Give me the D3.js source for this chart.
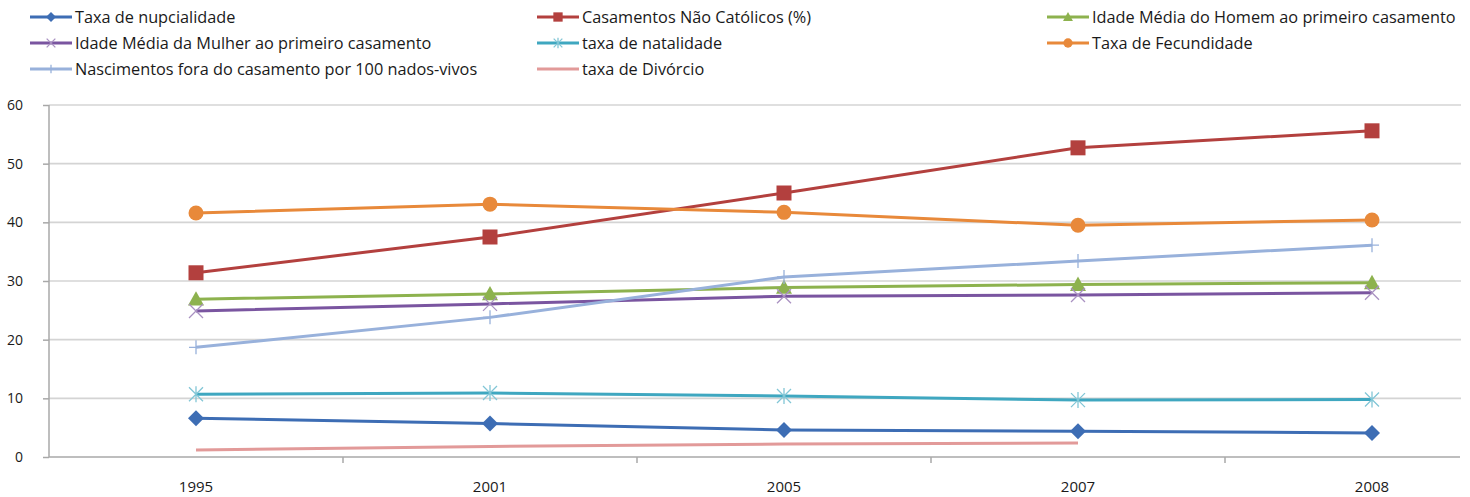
<!DOCTYPE html>
<html><head><meta charset="utf-8">
<script src="https://cdn.jsdelivr.net/npm/d3@7"></script>
<style>
html,body{margin:0;padding:0;background:#fff;overflow:hidden}
text{font-family:"Open Sans",sans-serif;fill:#1a1a1a}
</style></head><body>
<svg id="c" width="1470" height="497"></svg>
<script>
const categories = ["1995","2001","2005","2007","2008"];
const yTicks = [0,10,20,30,40,50,60];

const seriesNames = [
  "Taxa de nupcialidade",
  "Casamentos Não Católicos (%)",
  "Idade Média do Homem ao primeiro casamento",
  "Idade Média da Mulher ao primeiro casamento",
  "taxa de natalidade",
  "Taxa de Fecundidade",
  "Nascimentos fora do casamento por 100 nados-vivos",
  "taxa de Divórcio"
];
const nupcialidade   = [6.6, 5.7, 4.6, 4.4, 4.1];
const naoCatolicos   = [31.4, 37.5, 45.0, 52.7, 55.6];
const idadeHomem     = [26.9, 27.8, 28.9, 29.4, 29.7];
const idadeMulher    = [24.9, 26.1, 27.4, 27.6, 28.0];
const natalidade     = [10.7, 10.9, 10.4, 9.7, 9.8];
const fecundidade    = [41.6, 43.1, 41.7, 39.5, 40.4];
const foraCasamento  = [18.7, 23.8, 30.7, 33.4, 36.1];
const divorcio       = [1.2, 1.8, 2.2, 2.4, null];

const seriesValues = [nupcialidade, naoCatolicos, idadeHomem, idadeMulher, natalidade, fecundidade, foraCasamento, divorcio];
const colors  = ["#3d6db4","#b3403e","#8db24e","#7a55a0","#3fa7c0","#e8893a","#98b1db","#e29a99"];
const markers = ["diamond","square","triangle","x","star","circle","plus","none"];

const svg = d3.select("#c");
const mLeft = 49, mTop = 105, mBottom = 457, band = 294;
const x = d3.scaleBand().domain(categories).range([mLeft, mLeft + band*categories.length]).padding(0);
const y = d3.scaleLinear().domain([0,60]).range([mBottom, mTop]);
const rightEdge = 1461;

// gridlines
svg.append("g").selectAll("line").data(yTicks.filter(d=>d>0)).join("line")
  .attr("x1", mLeft).attr("x2", rightEdge).attr("y1", d=>y(d)).attr("y2", d=>y(d))
  .attr("stroke", "#d4d4d4").attr("stroke-width", 1.6);

// y axis
const ya = svg.append("g").attr("transform", `translate(${mLeft},0)`)
  .call(d3.axisLeft(y).tickValues(yTicks).tickSize(6).tickPadding(20));
ya.select(".domain").attr("stroke", "#a8a8a8").attr("stroke-width",1.5).attr("d", `M-0,${mTop}V${mBottom}`);
ya.selectAll(".tick line").attr("stroke", "#a8a8a8").attr("stroke-width",1.5);
ya.selectAll(".tick text").attr("font-size", 14).attr("fill", "#1a1a1a").style("font-family","'Open Sans',sans-serif");

// x axis
svg.append("line").attr("x1", mLeft).attr("x2", 1460).attr("y1", mBottom).attr("y2", mBottom)
  .attr("stroke", "#a8a8a8").attr("stroke-width", 1.5);
svg.append("g").selectAll("line").data(categories.slice(1)).join("line")
  .attr("x1", d=>x(d)).attr("x2", d=>x(d)).attr("y1", mBottom).attr("y2", mBottom+6)
  .attr("stroke", "#a8a8a8").attr("stroke-width", 1.5);
svg.append("g").selectAll("text").data(categories).join("text")
  .attr("x", d=>x(d)+band/2).attr("y", 492).attr("text-anchor","middle")
  .attr("font-size", 15).text(d=>d);

const cx = c => x(c) + band/2;

function drawMarker(g, type, px, py, color, k) {
  const s = 7*k;
  if (type === "diamond") {
    const h = 8*k;
    g.append("path").attr("d", `M${px},${py-h}L${px+h},${py}L${px},${py+h}L${px-h},${py}Z`).attr("fill", color);
  } else if (type === "square") {
    const h = 7.5*k;
    g.append("rect").attr("x", px-h).attr("y", py-h).attr("width", 2*h).attr("height", 2*h).attr("fill", color);
  } else if (type === "triangle") {
    const h = 8*k;
    g.append("path").attr("d", `M${px},${py-h}L${px+h},${py+h*0.8}L${px-h},${py+h*0.8}Z`).attr("fill", color);
  } else if (type === "circle") {
    g.append("circle").attr("cx", px).attr("cy", py).attr("r", 7.5*k).attr("fill", color);
  } else if (type === "x" || type === "star") {
    const c2 = d3.interpolateRgb(color, "#fff")(0.35);
    g.append("path").attr("d", `M${px-s},${py-s}L${px+s},${py+s}M${px-s},${py+s}L${px+s},${py-s}` + (type==="star" ? `M${px},${py-s-1}V${py+s+1}` : ""))
      .attr("stroke", c2).attr("stroke-width", 1.3).attr("fill","none");
  } else if (type === "plus") {
    g.append("path").attr("d", `M${px},${py-s}V${py+s}M${px-s},${py}H${px+s}`)
      .attr("stroke", color).attr("stroke-width", 1.3).attr("fill","none");
  }
}

const line = d3.line().defined(d=>d.v!==null).x(d=>cx(d.c)).y(d=>y(d.v));
seriesValues.forEach((vals, i) => {
  const g = svg.append("g");
  const data = categories.map((c,j)=>({c, v: vals[j]}));
  g.append("path").datum(data).attr("d", line).attr("fill","none")
    .attr("stroke", colors[i]).attr("stroke-width", 3).attr("stroke-linejoin","round");
  data.filter(d=>d.v!==null).forEach(d => drawMarker(g, markers[i], cx(d.c), y(d.v), colors[i], 1));
});

// legend
const legCols = [30, 537, 1047];
const legRows = [17, 43, 69];
seriesNames.forEach((name, i) => {
  const col = i % 3, row = Math.floor(i / 3);
  const lx = legCols[col], ly = legRows[row];
  const g = svg.append("g");
  g.append("line").attr("x1", lx).attr("x2", lx+42).attr("y1", ly).attr("y2", ly)
    .attr("stroke", colors[i]).attr("stroke-width", 3);
  drawMarker(g, markers[i], lx+21, ly, colors[i], 0.62);
  g.append("text").attr("x", lx+45).attr("y", ly+5.5).attr("font-size", 16.3).text(name);
});
</script>
</body></html>
